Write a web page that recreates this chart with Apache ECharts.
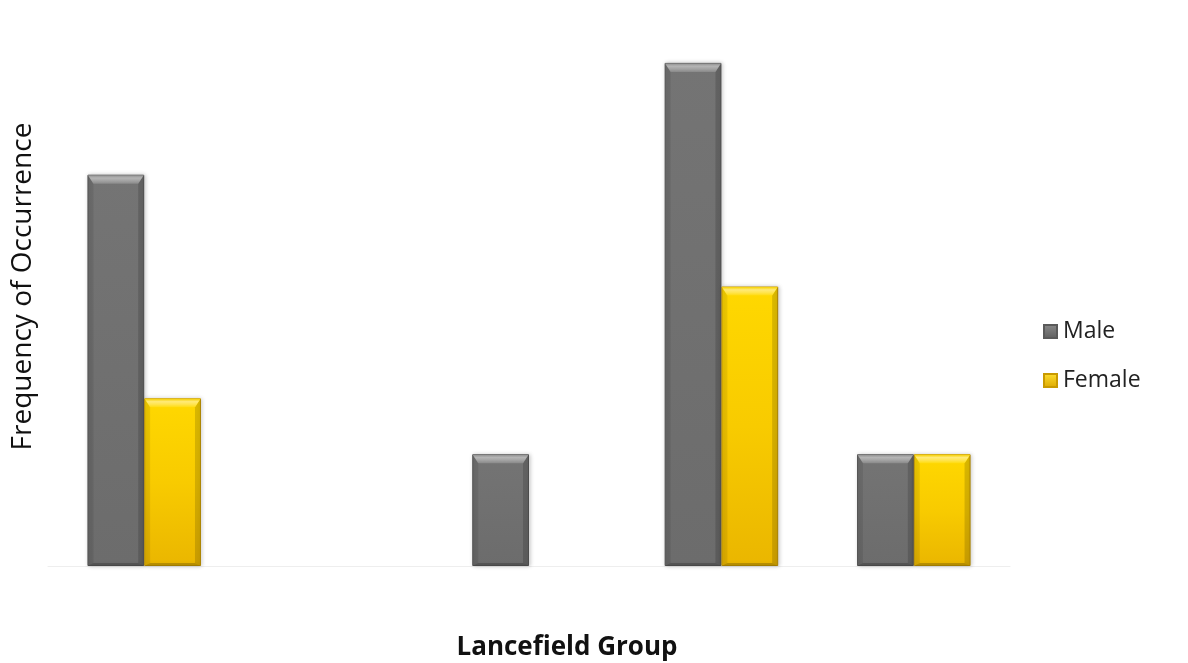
<!DOCTYPE html>
<html>
<head>
<meta charset="utf-8">
<title>Lancefield Group by Sex</title>
<script src="https://cdn.jsdelivr.net/npm/echarts@6/dist/echarts.min.js"></script>
<style>
  html, body { margin: 0; padding: 0; background: #ffffff; }
  #chart { width: 1188px; height: 663px; }
</style>
</head>
<body>
<div id="chart"></div>
<script>
// Lancefield groups (labels hidden on the axis)
const groups = ['A', 'B', 'C', 'F', 'G'];
// Frequency of occurrence per group
const maleCounts = [7, 0, 2, 9, 2];
const femaleCounts = [3, 0, 0, 5, 2];

const FONT = '"Open Sans", "Noto Sans", sans-serif';
const BAR_SHARE = 0.59;     // share of a category band taken by the pair of bars
const BEVEL = 9;            // bevel depth in px

const grad = (x2, y2, stops) => new echarts.graphic.LinearGradient(0, 0, x2, y2,
  stops.map((c, i) => ({ offset: i / (stops.length - 1), color: c })));

const palette = {
  Male: {
    face: grad(0, 1, ['#747474', '#6c6c6c']),
    border: '#5a5a5a',
    cap: grad(0, 1, ['#909090', '#b4b4b4', '#a2a2a2', '#8a8a8a']),
    legend: grad(0, 1, ['#8a8a8a', '#5e5e5e'])
  },
  Female: {
    face: grad(0, 1, ['#ffd800', '#f8cb00', '#eab600']),
    border: '#c99a00',
    cap: grad(0, 1, ['#f5d000', '#ffea78', '#ffe44c', '#ffdc10']),
    legend: grad(0, 1, ['#ffdf30', '#dca800'])
  }
};

// Zero counts draw nothing
const barData = (vals) => vals.map(v => v === 0
  ? { value: v, itemStyle: { opacity: 0 } }
  : v);

// Bevel caps and side shading drawn over each bar
function bevelSeries(name, vals, side) {
  return {
    type: 'custom',
    name: name + ' bevel',
    silent: true,
    z: 3,
    data: vals.map((v, i) => [i, v]),
    encode: { x: 0, y: 1 },
    renderItem: function (params, api) {
      const v = api.value(1);
      if (!v) return null;
      const top = api.coord([api.value(0), v]);
      const base = api.coord([api.value(0), 0]);
      const band = api.size([1, 0])[0];
      const w = band * BAR_SHARE / 2;
      const x0 = side < 0 ? top[0] - w : top[0];
      const x1 = x0 + w;
      const y0 = top[1];
      const y1 = base[1];
      const b = BEVEL;
      const s = 6;   // side bevel width
      const st = palette[name];
      return {
        type: 'group',
        children: [
          { type: 'polygon', shape: { points: [[x0, y0], [x0 + s, y0 + b], [x0 + s, y1 - 3], [x0, y1]] },
            style: { fill: 'rgba(0,0,0,0.07)' } },
          { type: 'polygon', shape: { points: [[x1, y0], [x1 - s, y0 + b], [x1 - s, y1 - 3], [x1, y1]] },
            style: { fill: 'rgba(0,0,0,0.15)' } },
          { type: 'polygon', shape: { points: [[x0, y1], [x0 + s, y1 - 3], [x1 - s, y1 - 3], [x1, y1]] },
            style: { fill: 'rgba(0,0,0,0.2)' } },
          { type: 'polygon', shape: { points: [[x0 + 0.5, y0 + 0.5], [x1 - 0.5, y0 + 0.5], [x1 - s, y0 + b], [x0 + s, y0 + b]] },
            style: { fill: st.cap } }
        ]
      };
    }
  };
}

const chart = echarts.init(document.getElementById('chart'));
chart.setOption({
  backgroundColor: '#ffffff',
  animation: false,
  grid: { left: 48, top: 7, width: 962, bottom: 97 },
  title: {
    text: 'Lancefield Group',
    left: 562,
    top: 630,
    textAlign: 'center',
    textStyle: { fontFamily: FONT, fontSize: 26, fontWeight: 'bold', color: '#111111' }
  },
  legend: {
    orient: 'vertical',
    left: 1038,
    top: 315,
    itemWidth: 13,
    itemHeight: 13,
    itemGap: 26,
    textStyle: { fontFamily: FONT, fontSize: 23, color: '#222222', padding: [0, 0, 0, 1] },
    data: [
      { name: 'Male', icon: 'rect', itemStyle: { color: palette.Male.legend } },
      { name: 'Female', icon: 'rect', itemStyle: { color: palette.Female.legend } }
    ]
  },
  xAxis: {
    type: 'category',
    data: groups,
    axisLine: { show: true, lineStyle: { color: '#eeeeee', width: 1 } },
    axisTick: { show: false },
    axisLabel: { show: false }
  },
  yAxis: {
    type: 'value',
    min: 0,
    max: 10,
    interval: 1,
    name: 'Frequency of Occurrence',
    nameLocation: 'middle',
    nameGap: 11,
    nameTextStyle: { fontFamily: FONT, fontSize: 28, color: '#111111' },
    axisLine: { show: false },
    axisTick: { show: false },
    axisLabel: { show: false },
    splitLine: { show: false }
  },
  series: [
    {
      name: 'Male',
      type: 'bar',
      data: barData(maleCounts),
      barCategoryGap: ((1 - BAR_SHARE) * 100) + '%',
      barGap: '0%',
      itemStyle: {
        color: palette.Male.face,
        borderColor: palette.Male.border,
        borderWidth: 1,
        shadowColor: 'rgba(0,0,0,0.2)',
        shadowBlur: 4,
        shadowOffsetX: 1
      }
    },
    {
      name: 'Female',
      type: 'bar',
      data: barData(femaleCounts),
      itemStyle: {
        color: palette.Female.face,
        borderColor: palette.Female.border,
        borderWidth: 1,
        shadowColor: 'rgba(0,0,0,0.2)',
        shadowBlur: 4,
        shadowOffsetX: 1
      }
    },
    bevelSeries('Male', maleCounts, -1),
    bevelSeries('Female', femaleCounts, 1)
  ]
});
</script>
</body>
</html>
